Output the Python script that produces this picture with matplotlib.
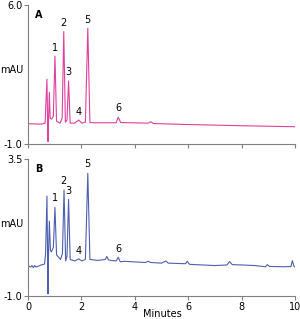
import matplotlib
matplotlib.use("Agg")
import matplotlib.pyplot as plt

# Trace A (time in minutes, signal in mAU)
time_a = [0.0, 0.5, 0.64, 0.71, 0.735, 0.75, 0.77, 0.80, 0.83, 0.88, 0.95, 1.01, 1.07, 1.20,
          1.28, 1.34, 1.40, 1.46, 1.52, 1.58, 1.75, 1.90, 2.02, 2.15, 2.24, 2.32, 2.5,
          3.3, 3.38, 3.47, 4.5, 4.6, 4.7, 6.0, 8.0, 10.0]
signal_a = [0.02, 0.0, 0.05, 2.26, 0.1, -0.88, 0.2, 1.6, 0.3, 0.25, 0.4, 3.43, 0.15, 0.05,
            0.3, 4.66, 0.1, 0.2, 2.17, 0.05, 0.05, 0.21, 0.05, 0.1, 4.83, 0.08, 0.07,
            0.07, 0.35, 0.08, 0.05, 0.12, 0.03, -0.02, -0.08, -0.13]

# Trace B
time_b = [0.0, 0.1, 0.15, 0.2, 0.25, 0.3, 0.5, 0.62, 0.66, 0.71, 0.735, 0.75, 0.77, 0.80,
          0.84, 0.88, 0.95, 1.01, 1.07, 1.22, 1.29, 1.35, 1.41, 1.46, 1.52, 1.58, 1.75,
          1.90, 2.02, 2.15, 2.24, 2.32, 2.6, 2.9, 2.95, 3.02, 3.3, 3.38, 3.46, 3.6, 4.0,
          4.4, 4.5, 4.6, 5.0, 5.16, 5.25, 5.9, 5.96, 6.05, 7.0, 7.45, 7.55, 7.65, 8.0,
          8.5, 8.9, 8.96, 9.05, 9.6, 9.85, 9.9, 9.96, 10.0]
signal_b = [0.0, -0.05, 0.0, -0.07, 0.0, -0.05, 0.02, 0.05, 0.4, 2.28, 0.3, -0.93, 0.4, 1.46,
            0.5, 0.45, 0.6, 1.91, 0.35, 0.2, 0.4, 2.48, 0.15, 0.3, 2.18, 0.2, 0.15,
            0.22, 0.15, 0.2, 3.03, 0.2, 0.17, 0.2, 0.3, 0.18, 0.15, 0.27, 0.12, 0.14, 0.12,
            0.1, 0.14, 0.1, 0.08, 0.15, 0.08, 0.06, 0.14, 0.04, 0.0, 0.02, 0.13, 0.03, 0.02,
            0.0, -0.04, 0.03, -0.03, -0.04, -0.03, 0.16, -0.02, -0.05]

peak_labels = ["1", "2", "3", "4", "5", "6"]
peak_times = [1.01, 1.34, 1.52, 1.90, 2.24, 3.38]
label_y_a = [3.6, 4.85, 2.35, 0.35, 5.0, 0.55]
label_y_b = [2.05, 2.62, 2.3, 0.3, 3.17, 0.38]

x_ticks = [0, 2, 4, 6, 8, 10]
x_tick_labels = ["0", "2", "4", "6", "8", "10"]

pink = "#e0409f"
blue = "#4d5fb0"
spine = "#808080"

fig = plt.figure(figsize=(3.0, 3.19), dpi=100)
ax_a = fig.add_axes([0.0933, 0.5486, 0.89, 0.4357])
ax_b = fig.add_axes([0.0933, 0.0721, 0.89, 0.4295])


def style(ax, ylim, show_xlabels):
    ax.set_xlim(0, 10)
    ax.set_ylim(*ylim)
    for s in ["top", "right"]:
        ax.spines[s].set_visible(False)
    for s in ["left", "bottom"]:
        ax.spines[s].set_color(spine)
        ax.spines[s].set_linewidth(0.8)
    ax.set_xticks(x_ticks)
    ax.set_xticklabels(x_tick_labels if show_xlabels else [])
    ax.set_yticks(list(ylim))
    ax.set_yticklabels([f"{ylim[0]:.1f}", f"{ylim[1]:.1f}"])
    ax.tick_params(axis="both", length=3, width=0.8, color=spine, labelsize=7, pad=1)


ax_a.plot(time_a, signal_a, color=pink, lw=0.8)
style(ax_a, (-1.0, 6.0), False)
for lab, t, y in zip(peak_labels, peak_times, label_y_a):
    ax_a.text(t, y, lab, ha="center", va="bottom", fontsize=7)
ax_a.text(0.25, 5.75, "A", fontsize=7, fontweight="semibold", ha="left", va="top")

ax_b.plot(time_b, signal_b, color=blue, lw=0.8)
style(ax_b, (-1.0, 3.5), True)
for lab, t, y in zip(peak_labels, peak_times, label_y_b):
    ax_b.text(t, y, lab, ha="center", va="bottom", fontsize=7)
ax_b.text(0.25, 3.35, "B", fontsize=7, fontweight="semibold", ha="left", va="top")

fig.text(0.0, 1 - 70 / 319, "mAU", fontsize=7, ha="left", va="center")
fig.text(0.0, 1 - 224 / 319, "mAU", fontsize=7, ha="left", va="center")
fig.text(162 / 300, 1 - 314 / 319, "Minutes", fontsize=7, ha="center", va="center")

fig.savefig("out.png", dpi=100)
